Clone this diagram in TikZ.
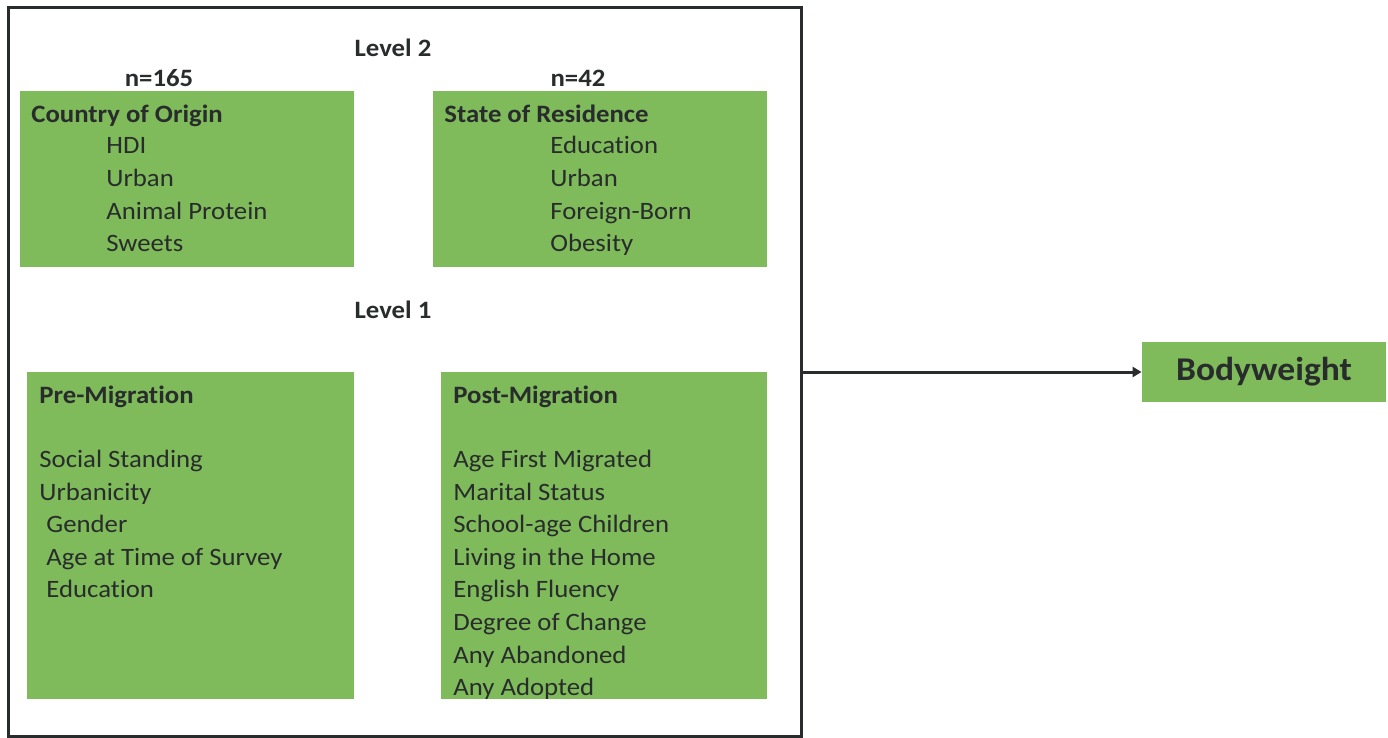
\documentclass[tikz,border=0pt]{standalone}
\usepackage{fontspec}
\setmainfont{Carlito}[FakeStretch=1.07, Ligatures=NoCommon]
\usetikzlibrary{arrows.meta}

\definecolor{boxgreen}{RGB}{127,187,90}
\definecolor{ink}{RGB}{40,44,44}

\tikzset{
  panel/.style={fill=boxgreen, draw=none, anchor=north west, inner sep=0pt},
  head/.style={font=\bfseries\fontsize{12.5}{15}\selectfont, text=ink, inner sep=0pt},
  item/.style={font=\fontsize{12.5}{15}\selectfont, text=ink, inner sep=0pt, anchor=base west},
}

\begin{document}
\begin{tikzpicture}[x=0.5pt, y=-0.5pt]
    \useasboundingbox (0,0) rectangle (1388,738);

    % outer frame
    \node[draw=ink, line width=1.5pt, minimum width=396.5pt, minimum height=364.5pt, inner sep=0pt] (frame) at (404.5,372) {};

    % level 2
    \node[head, anchor=base] (lvl2) at (393,57) {Level 2};
    \node[head, anchor=base] (n165) at (159,87) {n=165};
    \node[head, anchor=base] (n42) at (578,87) {n=42};

    \node[panel, minimum width=167pt, minimum height=88pt] (origin) at (20,91) {};
    \node[panel, minimum width=167pt, minimum height=88pt] (state) at (433,91) {};

    \node[head, anchor=base west] (originhd) at (31,123) {Country of Origin};
    \foreach \t [count=\i] in {HDI, Urban, Animal Protein, Sweets}
        \node[item] (co\i) at (106, 121+32.7*\i) {\t};

    \node[head, anchor=base west] (statehd) at (444,123) {State of Residence};
    \foreach \t [count=\i] in {Education, Urban, Foreign-Born, Obesity}
        \node[item] (st\i) at (550, 121+32.7*\i) {\t};

    % level 1
    \node[head, anchor=base] (lvl1) at (393,318) {Level 1};

    \node[panel, minimum width=163.5pt, minimum height=163.5pt] (pre) at (27,372) {};
    \node[panel, minimum width=163pt, minimum height=163.5pt] (post) at (441,372) {};

    \node[head, anchor=base west] (prehd) at (39,403) {Pre-Migration};
    \node[item] (pre1) at (39,467) {Social Standing};
    \node[item] (pre2) at (39,500) {Urbanicity};
    \node[item] (pre3) at (46,532) {Gender};
    \node[item] (pre4) at (46,565) {Age at Time of Survey};
    \node[item] (pre5) at (46,597) {Education};

    \node[head, anchor=base west] (posthd) at (453,403) {Post-Migration};
    \foreach \t/\y [count=\i] in {Age First Migrated/467, Marital Status/500,
        School-age Children/532, Living in the Home/565, English Fluency/597,
        Degree of Change/630, Any Abandoned/663, Any Adopted/695}
        \node[item] (po\i) at (453,\y) {\t};

    % outcome
    \node[fill=boxgreen, minimum width=122pt, minimum height=30pt, inner sep=0pt,
          font=\bfseries\fontsize{16.6}{20}\selectfont, text=ink] (weight) at (1264,372) {Bodyweight};

    \draw[ink, line width=1.5pt, -{Triangle[length=4.5pt,width=5pt]}] (frame.east) -- (weight.west);
\end{tikzpicture}
\end{document}
